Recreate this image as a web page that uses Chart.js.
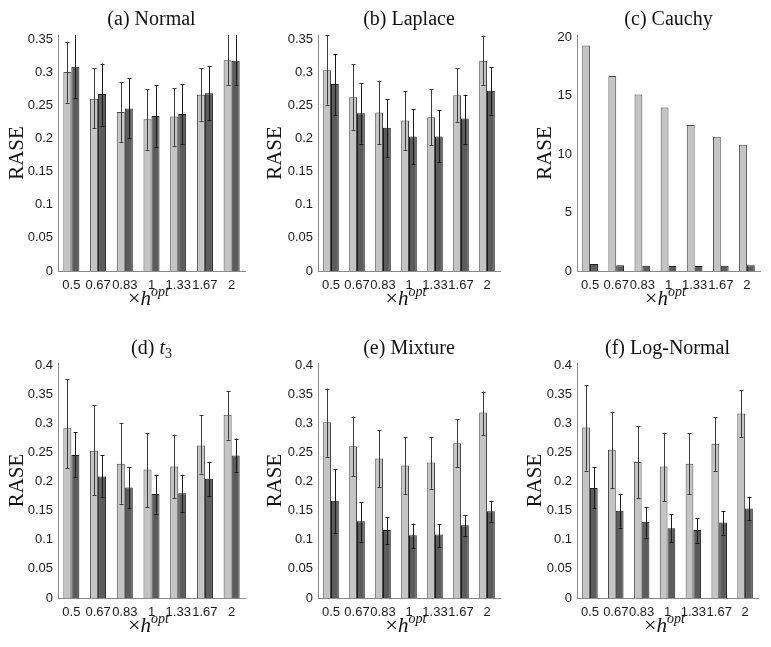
<!DOCTYPE html>
<html><head><meta charset="utf-8">
<script src="https://cdn.jsdelivr.net/npm/chart.js@4.4.0/dist/chart.umd.min.js"></script>
<style>
html,body{margin:0;padding:0;background:#fff;}
#wrap{position:relative;width:771px;height:647px;overflow:hidden;}
canvas{position:absolute;}
</style></head><body><div id="wrap">
<canvas id="c0" width="257" height="323" style="left:0;top:0"></canvas>
<canvas id="c1" width="257" height="323" style="left:257px;top:0"></canvas>
<canvas id="c2" width="257" height="323" style="left:514px;top:0"></canvas>
<canvas id="c3" width="257" height="324" style="left:0;top:323px"></canvas>
<canvas id="c4" width="257" height="324" style="left:257px;top:323px"></canvas>
<canvas id="c5" width="257" height="324" style="left:514px;top:323px"></canvas>
</div>
<script>
// ---- data ----
const categories = ['0.5','0.67','0.83','1','1.33','1.67','2'];

const normalA   = [0.300,0.260,0.240,0.229,0.233,0.266,0.318];
const normalALo = [0.254,0.215,0.195,0.183,0.189,0.227,0.281];
const normalAHi = [0.346,0.306,0.285,0.274,0.276,0.306,0.360];
const normalB   = [0.308,0.267,0.245,0.234,0.237,0.268,0.317];
const normalBLo = [0.261,0.219,0.200,0.187,0.191,0.228,0.280];
const normalBHi = [0.360,0.313,0.291,0.280,0.282,0.309,0.360];

const laplaceA   = [0.303,0.262,0.239,0.227,0.232,0.265,0.317];
const laplaceALo = [0.251,0.213,0.191,0.183,0.190,0.225,0.281];
const laplaceAHi = [0.356,0.312,0.287,0.271,0.274,0.306,0.355];
const laplaceB   = [0.282,0.238,0.216,0.203,0.203,0.230,0.272];
const laplaceBLo = [0.235,0.192,0.172,0.161,0.164,0.191,0.236];
const laplaceBHi = [0.327,0.283,0.259,0.244,0.243,0.266,0.307];

const cauchyA = [19.3,16.7,15.1,14.0,12.5,11.5,10.8];
const cauchyB = [0.60,0.50,0.45,0.42,0.42,0.45,0.50];

const t3A   = [0.292,0.253,0.231,0.221,0.226,0.262,0.315];
const t3ALo = [0.223,0.177,0.162,0.156,0.172,0.214,0.272];
const t3AHi = [0.376,0.331,0.301,0.284,0.281,0.315,0.356];
const t3B   = [0.246,0.209,0.190,0.179,0.180,0.205,0.245];
const t3BLo = [0.208,0.174,0.155,0.144,0.148,0.175,0.217];
const t3BHi = [0.285,0.245,0.225,0.212,0.212,0.234,0.274];

const mixA   = [0.302,0.261,0.240,0.228,0.233,0.266,0.319];
const mixALo = [0.243,0.210,0.190,0.179,0.188,0.225,0.280];
const mixAHi = [0.360,0.312,0.288,0.276,0.277,0.307,0.355];
const mixB   = [0.167,0.132,0.117,0.108,0.109,0.125,0.149];
const mixBLo = [0.112,0.097,0.093,0.086,0.087,0.106,0.131];
const mixBHi = [0.221,0.165,0.139,0.128,0.127,0.142,0.167];

const lognA   = [0.293,0.255,0.234,0.226,0.231,0.265,0.317];
const lognALo = [0.219,0.189,0.172,0.166,0.179,0.218,0.277];
const lognAHi = [0.366,0.320,0.295,0.284,0.283,0.311,0.357];
const lognB   = [0.189,0.150,0.131,0.120,0.117,0.130,0.154];
const lognBLo = [0.154,0.121,0.104,0.096,0.095,0.109,0.134];
const lognBHi = [0.225,0.179,0.156,0.144,0.137,0.149,0.174];

const titles = [
  [{t:'(a) Normal'}],
  [{t:'(b) Laplace'}],
  [{t:'(c) Cauchy'}],
  [{t:'(d) '},{t:'t',it:true},{t:'3',size:14,dy:4}],
  [{t:'(e) Mixture'}],
  [{t:'(f) Log-Normal'}]
];
const yTitle = 'RASE';
const xTitle = [{t:'×',size:22},{t:'h',it:true,size:21},{t:'opt',it:true,size:14,dy:-9}];

// ---- drawing ----
const SERIF = '"Liberation Serif", "Times New Roman", serif';
const SANS = '"Liberation Sans", Arial, sans-serif';

function drawPieces(ctx, pieces, cx, cy, baseSize){
  let w = 0;
  const fonts = pieces.map(p=>{
    const f = (p.it?'italic ':'') + (p.size||baseSize) + 'px ' + SERIF;
    ctx.font = f; const pw = ctx.measureText(p.t).width; w += pw; return {f,pw};
  });
  let x = cx - w/2;
  ctx.textBaseline = 'alphabetic'; ctx.textAlign = 'left';
  pieces.forEach((p,i)=>{
    ctx.font = fonts[i].f;
    ctx.fillText(p.t, x, cy + (p.dy||0));
    x += fonts[i].pw;
  });
}

function makePanel(id, cfg){
  const errPlugin = {id:'err'+id, afterDatasetsDraw(chart){
    const ctx = chart.ctx, ys = chart.scales.y, ca = chart.chartArea;
    ctx.save();
    ctx.beginPath(); ctx.rect(ca.left, ca.top, ca.right-ca.left, ca.bottom-ca.top); ctx.clip();
    chart.data.datasets.forEach((ds,i)=>{
      if(!ds.lo) return;
      const meta = chart.getDatasetMeta(i);
      meta.data.forEach((bar,j)=>{
        const x = Math.round(bar.x)+0.5;
        const y1 = ys.getPixelForValue(ds.lo[j]), y2 = ys.getPixelForValue(ds.hi[j]);
        ctx.strokeStyle = ds.errColor; ctx.lineWidth = 1;
        ctx.beginPath();
        ctx.moveTo(x,y1); ctx.lineTo(x,y2);
        ctx.moveTo(x-2,Math.round(y1)+0.5); ctx.lineTo(x+2,Math.round(y1)+0.5);
        ctx.moveTo(x-2,Math.round(y2)+0.5); ctx.lineTo(x+2,Math.round(y2)+0.5);
        ctx.stroke();
      });
    });
    ctx.restore();
  }};
  const txtPlugin = {id:'txt'+id, afterDraw(chart){
    const ctx = chart.ctx, ca = chart.chartArea;
    const cx = (ca.left+ca.right)/2;
    ctx.save(); ctx.fillStyle = '#111';
    drawPieces(ctx, cfg.title, cx, ca.top - cfg.titleOff + 7, 20);
    drawPieces(ctx, xTitle, cx - 3, ca.bottom + 34, 20);
    ctx.translate(cfg.ylx, (ca.top+ca.bottom)/2);
    ctx.rotate(-Math.PI/2);
    ctx.font = '21px ' + SERIF; ctx.textAlign = 'center'; ctx.textBaseline = 'middle';
    ctx.fillText(yTitle, 0, 0);
    ctx.restore();
  }};
  const ds = [
    {data:cfg.a, backgroundColor:'#c4c4c4', borderColor:'#4a4a4a', borderWidth:1, lo:cfg.aLo, hi:cfg.aHi, errColor:'#3a3a3a',
     categoryPercentage:0.6, barPercentage:1},
    {data:cfg.b, backgroundColor:'#5c5c5c', borderColor:'#1c1c1c', borderWidth:1, lo:cfg.bLo, hi:cfg.bHi, errColor:'#1a1a1a',
     categoryPercentage:0.6, barPercentage:1}
  ];
  const tickFont = {family:SANS, size:13};
  new Chart(document.getElementById(id), {
    type:'bar',
    data:{labels:categories, datasets:ds},
    options:{
      responsive:false, animation:false, events:[],
      layout:{padding:{top:cfg.padTop, right:cfg.padRight, left:0, bottom:0}},
      plugins:{legend:{display:false}, tooltip:{enabled:false}, title:{display:false}},
      scales:{
        x:{grid:{display:false, drawTicks:false}, border:{display:true, color:'#8a8a8a', width:1},
           ticks:{font:tickFont, color:'#1a1a1a', padding:7, maxRotation:0, autoSkip:false},
           afterFit:s=>{s.height=cfg.xh;}},
        y:{min:0, max:cfg.max, grid:{display:false, drawTicks:false}, border:{display:true, color:'#8a8a8a', width:1},
           ticks:{stepSize:cfg.step, includeBounds:false, font:tickFont, color:'#1a1a1a', padding:5,
                  callback:v=>String(+(+v).toFixed(2))},
           afterFit:s=>{s.width=cfg.yw;}}
      }
    },
    plugins:[errPlugin, txtPlugin]
  });
}

makePanel('c0',{title:titles[0], a:normalA,aLo:normalALo,aHi:normalAHi, b:normalB,bLo:normalBLo,bHi:normalBHi,
  max:0.356, step:0.05, yw:58, padRight:12, padTop:35, xh:52, ylx:17, titleOff:17});
makePanel('c1',{title:titles[1], a:laplaceA,aLo:laplaceALo,aHi:laplaceAHi, b:laplaceB,bLo:laplaceBLo,bHi:laplaceBHi,
  max:0.356, step:0.05, yw:61, padRight:14, padTop:35, xh:52, ylx:18, titleOff:17});
makePanel('c2',{title:titles[2], a:cauchyA, b:cauchyB,
  max:20.2, step:5, yw:63, padRight:11, padTop:35, xh:52, ylx:31, titleOff:17});
makePanel('c3',{title:titles[3], a:t3A,aLo:t3ALo,aHi:t3AHi, b:t3B,bLo:t3BLo,bHi:t3BHi,
  max:0.404, step:0.05, yw:58, padRight:12, padTop:40, xh:49, ylx:17, titleOff:16});
makePanel('c4',{title:titles[4], a:mixA,aLo:mixALo,aHi:mixAHi, b:mixB,bLo:mixBLo,bHi:mixBHi,
  max:0.404, step:0.05, yw:61, padRight:14, padTop:40, xh:49, ylx:18, titleOff:16});
makePanel('c5',{title:titles[5], a:lognA,aLo:lognALo,aHi:lognAHi, b:lognB,bLo:lognBLo,bHi:lognBHi,
  max:0.404, step:0.05, yw:63, padRight:13, padTop:40, xh:49, ylx:21, titleOff:16});
</script>
</body></html>
